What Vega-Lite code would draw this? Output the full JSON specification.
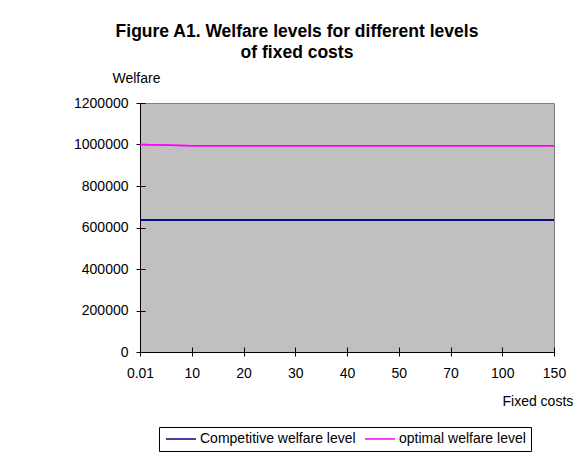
{
  "$schema": "https://vega.github.io/schema/vega-lite/v6.json",
  "autosize": {"type": "none"},
  "width": 414,
  "height": 249,
  "padding": {"left": 140, "top": 103, "right": 20, "bottom": 104},
  "background": "white",
  "title": {
    "text": ["Figure A1. Welfare levels for different levels", "of fixed costs"],
    "font": "Liberation Sans",
    "fontSize": 17.5,
    "fontWeight": "bold",
    "color": "black",
    "anchor": "middle",
    "dx": -50,
    "lineHeight": 21,
    "offset": 10
  },
  "config": {
    "view": {"fill": "#C0C0C0", "stroke": "#808080", "strokeWidth": 1},
    "font": "Liberation Sans",
    "axis": {
      "labelFont": "Liberation Sans",
      "titleFont": "Liberation Sans",
      "labelColor": "black",
      "titleColor": "black",
      "domainColor": "black",
      "tickColor": "black",
      "grid": false,
      "labelFontSize": 14,
      "titleFontSize": 14,
      "titleFontWeight": "normal"
    },
    "legend": {
      "labelFont": "Liberation Sans",
      "labelFontSize": 14,
      "labelColor": "black"
    }
  },
  "data": {
    "values": [
      {"cost": "0.01", "series": "Competitive welfare level", "welfare": 636000},
      {"cost": "10", "series": "Competitive welfare level", "welfare": 636000},
      {"cost": "20", "series": "Competitive welfare level", "welfare": 636000},
      {"cost": "30", "series": "Competitive welfare level", "welfare": 636000},
      {"cost": "40", "series": "Competitive welfare level", "welfare": 636000},
      {"cost": "50", "series": "Competitive welfare level", "welfare": 636000},
      {"cost": "70", "series": "Competitive welfare level", "welfare": 636000},
      {"cost": "100", "series": "Competitive welfare level", "welfare": 636000},
      {"cost": "150", "series": "Competitive welfare level", "welfare": 636000},
      {"cost": "0.01", "series": "optimal welfare level", "welfare": 1000000},
      {"cost": "10", "series": "optimal welfare level", "welfare": 994000},
      {"cost": "20", "series": "optimal welfare level", "welfare": 994000},
      {"cost": "30", "series": "optimal welfare level", "welfare": 994000},
      {"cost": "40", "series": "optimal welfare level", "welfare": 994000},
      {"cost": "50", "series": "optimal welfare level", "welfare": 994000},
      {"cost": "70", "series": "optimal welfare level", "welfare": 994000},
      {"cost": "100", "series": "optimal welfare level", "welfare": 994000},
      {"cost": "150", "series": "optimal welfare level", "welfare": 994000}
    ]
  },
  "layer": [
    {
      "mark": {"type": "line", "strokeWidth": 1.5},
      "encoding": {
        "x": {
          "field": "cost",
          "type": "ordinal",
          "sort": ["0.01", "10", "20", "30", "40", "50", "70", "100", "150"],
          "scale": {"type": "point", "padding": 0},
          "axis": {
            "labelAngle": 0,
            "tickSize": 4,
            "labelPadding": 10,
            "title": "Fixed costs",
            "titleAnchor": "start",
            "titleAlign": "left",
            "titleX": 362,
            "titleY": 53,
            "titleBaseline": "alphabetic"
          }
        },
        "y": {
          "field": "welfare",
          "type": "quantitative",
          "scale": {"domain": [0, 1200000]},
          "axis": {
            "values": [0, 200000, 400000, 600000, 800000, 1000000, 1200000],
            "format": "d",
            "tickSize": 4,
            "labelPadding": 8,
            "title": "Welfare",
            "titleAngle": 0,
            "titleAlign": "left",
            "titleAnchor": "end",
            "titleX": -28,
            "titleY": -21,
            "titleBaseline": "alphabetic"
          }
        },
        "color": {
          "field": "series",
          "type": "nominal",
          "scale": {
            "domain": ["Competitive welfare level", "optimal welfare level"],
            "range": ["#000080", "#FF00FF"]
          },
          "legend": {
            "orient": "none",
            "legendX": 19,
            "legendY": 324,
            "direction": "horizontal",
            "title": null,
            "symbolType": "M-3,0H3",
            "symbolSize": 100,
            "symbolStrokeWidth": 1.5,
            "symbolOffset": 10,
            "strokeColor": "black",
            "fillColor": "white",
            "padding": 5,
            "columnPadding": 6,
            "labelOffset": 12
          }
        }
      }
    },
    {
      "mark": {"type": "line", "strokeWidth": 1.5},
      "encoding": {
        "x": {
          "field": "cost",
          "type": "ordinal",
          "sort": ["0.01", "10", "20", "30", "40", "50", "70", "100", "150"],
          "scale": {"type": "point", "padding": 0},
          "axis": {"orient": "bottom", "labels": false, "domain": false, "tickSize": -5, "title": null}
        },
        "y": {
          "field": "welfare",
          "type": "quantitative",
          "scale": {"domain": [0, 1200000]},
          "axis": {"orient": "left", "values": [0, 200000, 400000, 600000, 800000, 1000000, 1200000], "labels": false, "domain": false, "tickSize": -5, "title": null}
        },
        "color": {"field": "series", "type": "nominal"}
      }
    }
  ],
  "resolve": {"axis": {"x": "independent", "y": "independent"}}
}
